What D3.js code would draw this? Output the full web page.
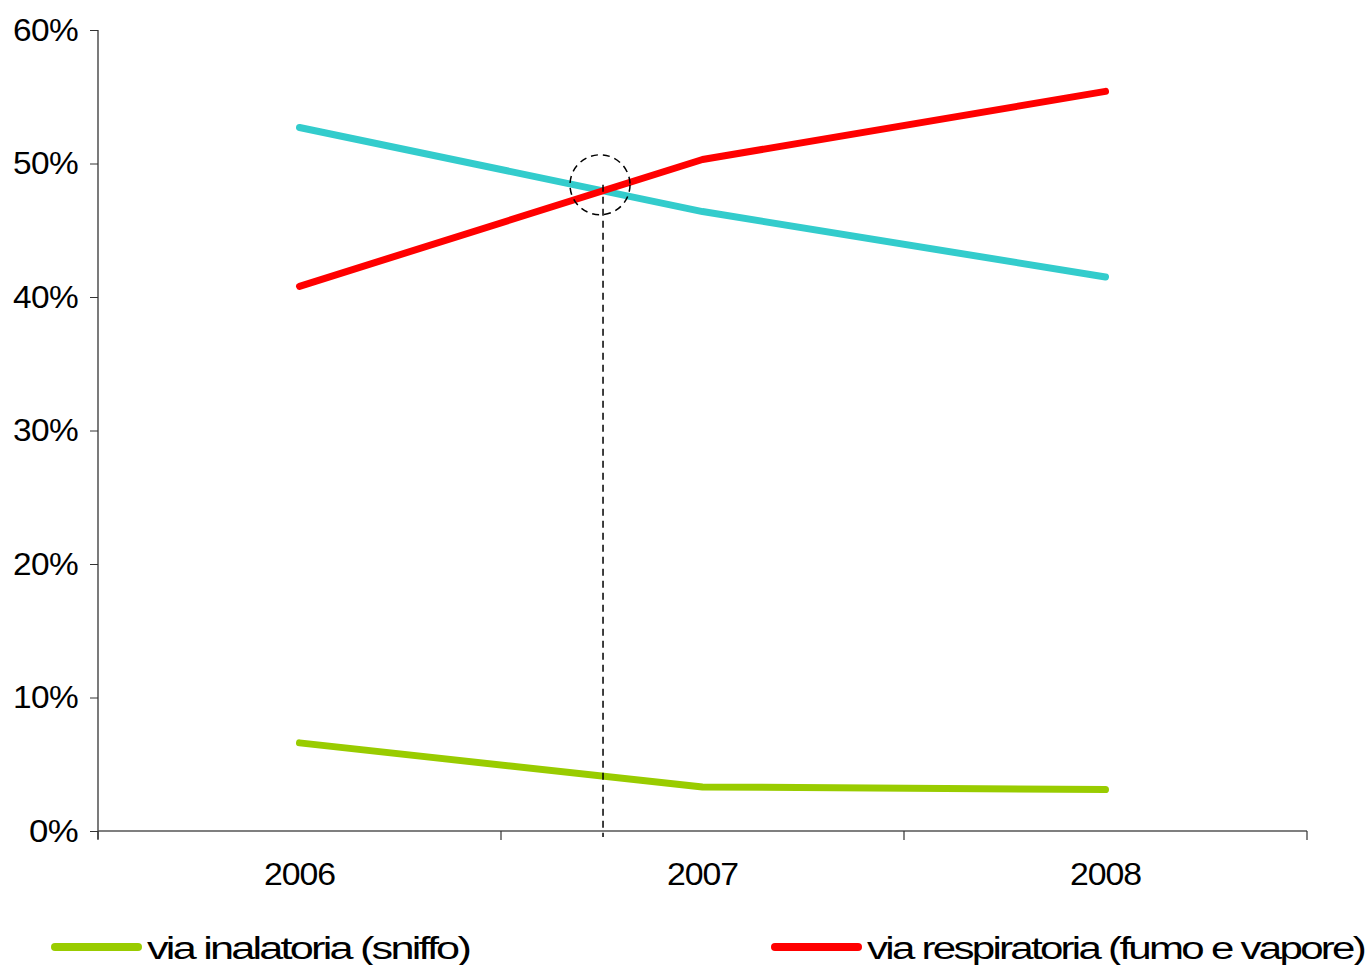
<!DOCTYPE html>
<html><head><meta charset="utf-8">
<script src="https://cdn.jsdelivr.net/npm/d3@7"></script>
<style>
html,body{margin:0;padding:0;background:#fff;}
text{font-family:"Liberation Sans",Arial,sans-serif;fill:#000;}
</style></head>
<body>
<svg id="c" width="1372" height="965"></svg>
<script>
const years = ["2006","2007","2008"];
const inalatoria = [0.066, 0.033, 0.031];
const respiratoria = [0.408, 0.503, 0.554];
const iniettiva = [0.527, 0.464, 0.415];
const yTicks = [0,0.1,0.2,0.3,0.4,0.5,0.6];
const seriesNames = ["via inalatoria (sniffo)","via respiratoria (fumo e vapore)","via iniettiva"];

const svg = d3.select("#c");
const x = d3.scaleBand().domain(years).range([98,1307]).padding(0);
const y = d3.scaleLinear().domain([0,0.6]).range([831,30]);

// y axis
const ya = svg.append("g").attr("transform","translate(98,0)")
  .call(d3.axisLeft(y).tickValues(yTicks).tickFormat(d3.format(".0%")).tickSize(8).tickPadding(12));
ya.select(".domain").attr("stroke","#333").attr("stroke-width",1.3).attr("d","M0,"+y(0.6)+"V"+(y(0)+8));
ya.selectAll(".tick line").attr("stroke","#333");
ya.selectAll(".tick text").style("font-size","32px").attr("letter-spacing","-0.6px")
  .attr("textLength",65).attr("lengthAdjust","spacingAndGlyphs")
  .attr("fill","#000").attr("dy","0.32em");
ya.selectAll(".tick text").filter(d=>d===0).attr("textLength",49);

// x axis
const xa = svg.append("g").attr("transform","translate(0,831)")
  .call(d3.axisBottom(x).tickSize(0).tickPadding(31));
xa.select(".domain").attr("stroke","#555").attr("stroke-width",1.5).attr("d","M98,0H1307");
xa.selectAll(".tick text").style("font-size","32px").attr("letter-spacing","-1px")
  .attr("textLength",71).attr("lengthAdjust","spacingAndGlyphs").attr("fill","#000");
const bounds = [x.range()[0]].concat(years.map(d=>x(d)+x.bandwidth()));
svg.append("g").selectAll("line").data(bounds).join("line")
  .attr("x1",d=>d).attr("x2",d=>d).attr("y1",831).attr("y2",840)
  .attr("stroke","#333").attr("stroke-width",1.2);

const line = d3.line().x((d,i)=>x(years[i])+x.bandwidth()/2).y(d=>y(d));
const series = [
  {vals:iniettiva,color:"#33CCCC"},
  {vals:respiratoria,color:"#FF0000"},
  {vals:inalatoria,color:"#99CC00"}
];
svg.append("g").selectAll("path").data(series).join("path")
  .attr("d",d=>line(d.vals)).attr("fill","none").attr("stroke",d=>d.color)
  .attr("stroke-width",7).attr("stroke-linecap","round").attr("stroke-linejoin","round");

// crossing annotation
const x0 = x(years[0])+x.bandwidth()/2, x1 = x(years[1])+x.bandwidth()/2;
const dA = iniettiva[0]-respiratoria[0], dB = iniettiva[1]-respiratoria[1];
const t = dA/(dA-dB);
const cx = x0 + t*(x1-x0);
const cv = iniettiva[0] + t*(iniettiva[1]-iniettiva[0]);
svg.append("circle").attr("cx",cx-3).attr("cy",y(cv)-6).attr("r",30)
  .attr("fill","none").attr("stroke","#000").attr("stroke-width",1.5).attr("stroke-dasharray","7,5");
svg.append("line").attr("x1",cx).attr("x2",cx).attr("y1",y(cv)-6).attr("y2",y(0)+6)
  .attr("stroke","#000").attr("stroke-width",1.5).attr("stroke-dasharray","7,5");

// legend
const legend = [
  {name:seriesNames[0],color:"#99CC00",x:55,w:322},
  {name:seriesNames[1],color:"#FF0000",x:775,w:497}
];
const lg = svg.append("g").selectAll("g").data(legend).join("g")
  .attr("transform",d=>`translate(${d.x},947)`);
lg.append("line").attr("x1",0).attr("x2",83).attr("y1",0).attr("y2",0)
  .attr("stroke",d=>d.color).attr("stroke-width",8).attr("stroke-linecap","round");
lg.append("text").attr("x",92).attr("y",12).style("font-size","31px").attr("letter-spacing","-2px")
  .attr("textLength",d=>d.w).attr("lengthAdjust","spacingAndGlyphs").text(d=>d.name);
</script>
</body></html>
